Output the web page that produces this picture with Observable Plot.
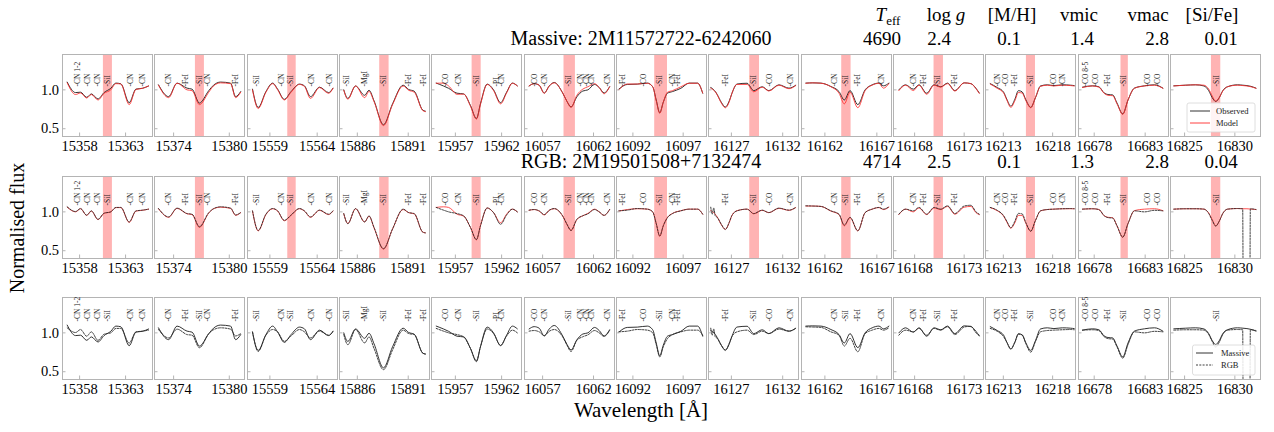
<!DOCTYPE html>
<html>
<head>
<meta charset="utf-8">
<script src="https://cdn.jsdelivr.net/npm/d3@7"></script>
<script src="https://cdn.jsdelivr.net/npm/@observablehq/plot@0.6"></script>
<style>
  body { margin: 0; background: #fff; }
  #fig { position: relative; width: 1274px; height: 432px; overflow: hidden; background: #fff;
         font-family: "Liberation Serif", "Times New Roman", serif; }
  .panel { position: absolute; }
  .panel svg { overflow: visible; }
</style>
</head>
<body>
<div id="fig"></div>
<script>
// ---------- star identifiers and fitted parameters ----------
const rowTitles = ["Massive: 2M11572722-6242060", "RGB: 2M19501508+7132474"];
const paramNames = ["<tspan font-style='italic'>T</tspan><tspan font-size='13' dy='4'>eff</tspan>",
                    "log <tspan font-style='italic'>g</tspan>", "[M/H]", "vmic", "vmac", "[Si/Fe]"];
const massiveParams = ["4690", "2.4", "0.1", "1.4", "2.8", "0.01"];
const rgbParams = ["4714", "2.5", "0.1", "1.3", "2.8", "0.04"];

// ---------- wavelength windows (Å) ----------
const xDomains = [[15356.14, 15365.93], [15371.94, 15381.64], [15556.63, 15566.15], [15884.25, 15893.09],
  [15954.42, 15964.15], [16055.22, 16064.06], [16090.37, 16099.32], [16124.77, 16133.54],
  [16159.75, 16168.41], [16165.87, 16174.95], [16211.19, 16220.32], [16676.46, 16685.29], [16823.60, 16832.55]];
const xTicks = [[15358, 15363], [15374, 15380], [15559, 15564], [15886, 15891], [15957, 15962], [16057, 16062],
  [16092, 16097], [16127, 16132], [16162, 16167], [16168, 16173], [16213, 16218], [16678, 16683], [16825, 16830]];
const yTicks = [0.5, 1.0];
// Si I line masks used in the fit
const siBands = [[15360.59, 15361.57], [15376.35, 15377.32], [15560.89, 15561.78], [15888.20, 15889.12],
  [15958.81, 15959.79], [16059.10, 16060.22], [16094.17, 16095.44], [16128.79, 16129.74], [16163.62, 16164.52],
  [16169.96, 16170.91], [16215.34, 16216.26], [16680.63, 16681.35], [16827.67, 16828.60]];

// ---------- spectra: wavelength, massive obs/model, RGB obs/model ----------
const wl01 = [15356.65, 15357.56, 15358.10, 15358.77, 15359.28, 15360.00, 15360.66, 15361.39, 15361.94, 15362.49, 15363.39, 15364.13, 15364.84, 15365.50];
const massObs01 = [1.100, 0.965, 0.970, 0.904, 0.948, 0.883, 0.965, 1.020, 1.087, 1.078, 0.835, 1.010, 1.020, 1.050];
const massMod01 = [1.090, 0.940, 0.960, 0.895, 0.940, 0.870, 0.955, 1.000, 1.080, 1.075, 0.810, 1.005, 1.020, 1.050];
const rgbObs01 = [1.065, 1.004, 1.043, 0.957, 1.013, 0.904, 0.983, 1.000, 1.057, 1.057, 0.870, 1.013, 1.022, 1.035];
const rgbMod01 = [1.060, 1.000, 1.040, 0.955, 1.010, 0.900, 0.980, 1.000, 1.055, 1.055, 0.865, 1.010, 1.020, 1.035];
const lines01 = [["CN 1-2", 15357.73], ["CN", 15358.82], ["CN", 15359.98], ["SiI", 15361.08], ["CN", 15363.58], ["CN", 15364.86]];

const wl02 = [15372.37, 15373.46, 15374.37, 15375.45, 15375.99, 15376.78, 15377.79, 15378.30, 15379.06, 15380.14, 15380.68, 15381.23];
const massObs02 = [1.065, 0.913, 1.087, 1.022, 1.009, 0.830, 0.990, 1.060, 1.100, 1.087, 0.913, 0.978];
const massMod02 = [1.060, 0.900, 1.085, 1.000, 0.990, 0.810, 0.970, 1.050, 1.090, 1.080, 0.900, 0.970];
const rgbObs02 = [1.043, 0.935, 1.048, 0.978, 0.970, 0.809, 0.990, 1.040, 1.065, 1.048, 0.961, 0.991];
const rgbMod02 = [1.040, 0.930, 1.045, 0.975, 0.965, 0.800, 0.985, 1.040, 1.060, 1.045, 0.955, 0.990];
const lines02 = [["CN", 15373.46], ["FeI", 15375.27], ["SiI", 15376.78], ["CN", 15377.68], ["FeI", 15380.68]];

const wl03 = [15557.16, 15557.76, 15558.58, 15559.29, 15559.82, 15560.52, 15561.24, 15562.12, 15562.65, 15563.29, 15564.25, 15565.21, 15565.67];
const massObs03 = [1.009, 0.774, 0.978, 1.087, 1.009, 0.878, 0.978, 1.074, 1.052, 0.913, 1.035, 0.965, 1.022];
const massMod03 = [1.000, 0.760, 0.970, 1.080, 1.000, 0.870, 0.970, 1.070, 1.045, 0.890, 1.030, 0.955, 1.020];
const rgbObs03 = [1.013, 0.761, 0.970, 1.043, 1.013, 0.891, 0.960, 1.043, 1.013, 0.935, 1.022, 0.970, 1.013];
const rgbMod03 = [1.010, 0.755, 0.965, 1.040, 1.010, 0.885, 0.955, 1.040, 1.010, 0.930, 1.020, 0.965, 1.010];
const lines03 = [["SiI", 15557.62], ["CN", 15560.25], ["SiI", 15561.16], ["CN", 15563.44], ["CN", 15565.31]];

const wl04 = [15884.67, 15885.07, 15885.83, 15886.72, 15887.15, 15887.64, 15888.57, 15889.46, 15890.50, 15891.04, 15891.59, 15892.42, 15892.68];
const massObs04 = [1.000, 0.890, 1.050, 0.930, 0.995, 0.860, 0.550, 0.820, 1.060, 1.005, 0.983, 0.740, 0.726];
const massMod04 = [0.995, 0.880, 1.050, 0.900, 0.980, 0.850, 0.540, 0.810, 1.050, 0.995, 0.970, 0.735, 0.720];
const rgbObs04 = [0.978, 0.848, 1.043, 0.870, 0.948, 0.800, 0.526, 0.780, 1.035, 0.991, 0.978, 0.740, 0.730];
const rgbMod04 = [0.975, 0.850, 1.040, 0.870, 0.945, 0.795, 0.520, 0.780, 1.030, 0.990, 0.975, 0.740, 0.730];
const lines04 = [["SiI", 15884.94], ["MgI", 15886.72], ["SiI", 15888.63], ["FeI", 15891.04], ["FeI", 15892.52]];

const wl05 = [15954.93, 15955.72, 15956.27, 15957.18, 15957.90, 15958.63, 15959.28, 15959.71, 15960.44, 15961.13, 15961.89, 15962.54, 15963.16, 15963.70];
const massObs05 = [1.087, 1.050, 1.020, 0.957, 0.948, 0.800, 0.630, 0.820, 1.074, 1.000, 0.835, 0.970, 1.087, 1.052];
const massMod05 = [1.085, 1.087, 1.050, 0.943, 0.945, 0.790, 0.625, 0.810, 1.070, 0.990, 0.820, 0.960, 1.085, 1.050];
const rgbObs05 = [1.057, 1.022, 1.000, 0.978, 0.948, 0.800, 0.643, 0.820, 1.050, 0.990, 0.840, 0.960, 1.035, 1.000];
const rgbMod05 = [1.057, 1.065, 1.057, 0.970, 0.945, 0.800, 0.640, 0.820, 1.050, 0.990, 0.860, 0.970, 1.035, 1.000];
const lines05 = [["CO", 15955.99], ["CN", 15957.35], ["SiI", 15959.28], ["PI", 15961.45], ["CN", 15961.96]];

const wl06 = [16055.67, 16056.17, 16056.66, 16057.16, 16057.65, 16058.14, 16058.97, 16059.40, 16059.79, 16060.36, 16060.95, 16061.45, 16062.10, 16062.56, 16063.03, 16063.58];
const massObs06 = [1.050, 1.080, 1.060, 0.960, 1.050, 1.095, 0.960, 0.850, 0.780, 0.910, 0.985, 1.000, 1.070, 1.030, 0.960, 1.040];
const massMod06 = [1.050, 1.080, 1.060, 0.955, 1.050, 1.090, 0.960, 0.850, 0.775, 0.930, 1.010, 1.040, 1.080, 1.030, 0.950, 1.040];
const rgbObs06 = [1.022, 1.030, 1.013, 0.965, 1.020, 1.043, 0.948, 0.840, 0.761, 0.904, 0.950, 0.975, 1.030, 1.000, 0.955, 1.030];
const rgbMod06 = [1.020, 1.030, 1.010, 0.960, 1.020, 1.040, 0.945, 0.835, 0.760, 0.900, 0.950, 0.980, 1.035, 1.000, 0.955, 1.030];
const lines06 = [["CO", 16056.17], ["CN", 16057.16], ["SiI", 16059.53], ["CN", 16060.71], ["CN", 16061.28], ["CN", 16061.77], ["CN", 16063.35]];

const wl07 = [16090.60, 16091.44, 16092.44, 16093.44, 16093.97, 16094.32, 16094.67, 16095.02, 16095.44, 16095.94, 16096.77, 16097.60, 16098.44, 16098.94];
const massObs07 = [1.010, 1.070, 1.074, 1.087, 1.040, 0.870, 0.705, 0.840, 0.957, 0.978, 1.020, 1.087, 1.087, 0.957];
const massMod07 = [1.000, 1.075, 1.075, 1.085, 1.040, 0.860, 0.700, 0.840, 0.970, 0.990, 1.040, 1.085, 1.085, 0.960];
const rgbObs07 = [1.013, 1.022, 1.043, 1.035, 1.000, 0.850, 0.690, 0.820, 0.926, 0.978, 1.013, 1.035, 1.035, 0.970];
const rgbMod07 = [1.010, 1.030, 1.040, 1.035, 1.000, 0.850, 0.685, 0.820, 0.930, 0.980, 1.015, 1.035, 1.035, 0.970];
const lines07 = [["FeI", 16090.94], ["CO", 16093.10], ["SiI", 16094.70], ["CN", 16095.94], ["FeI", 16096.44]];

const wl08 = [16124.99, 16125.13, 16125.28, 16125.43, 16125.62, 16126.02, 16126.41, 16126.80, 16127.04, 16127.55, 16128.53, 16129.18, 16130.00, 16130.65, 16131.63, 16132.61, 16133.27];
const massObs08 = [1.030, 1.020, 1.000, 0.980, 0.940, 0.840, 0.780, 0.860, 0.950, 1.075, 1.085, 0.990, 1.040, 0.990, 1.065, 1.022, 1.060];
const massMod08 = [1.020, 1.010, 0.995, 0.975, 0.935, 0.830, 0.770, 0.850, 0.950, 1.070, 1.070, 0.975, 1.035, 0.985, 1.060, 1.015, 1.055];
const rgbObs08 = [1.060, 0.970, 1.050, 0.950, 0.930, 0.840, 0.774, 0.870, 0.950, 1.013, 1.035, 0.978, 1.022, 0.991, 1.048, 1.022, 1.057];
const rgbMod08 = [1.020, 1.000, 0.990, 0.970, 0.935, 0.835, 0.775, 0.865, 0.950, 1.015, 1.035, 0.975, 1.020, 0.990, 1.045, 1.020, 1.055];
const lines08 = [["FeI", 16126.41], ["SiI", 16129.18], ["CO", 16130.75], ["CN", 16132.78]];

const wl09 = [16160.17, 16160.84, 16161.62, 16162.58, 16163.36, 16163.87, 16164.42, 16165.17, 16165.87, 16166.55, 16167.20, 16167.64, 16168.16];
const massObs09 = [1.087, 1.090, 1.087, 1.043, 0.978, 0.870, 0.990, 0.810, 1.000, 1.065, 1.087, 1.052, 1.087];
const massMod09 = [1.085, 1.090, 1.085, 1.040, 0.957, 0.820, 0.970, 0.770, 0.990, 1.060, 1.085, 1.022, 1.080];
const rgbObs09 = [1.078, 1.075, 1.070, 1.013, 0.970, 0.830, 0.930, 0.757, 0.990, 1.035, 1.057, 1.035, 1.065];
const rgbMod09 = [1.075, 1.075, 1.070, 1.010, 0.965, 0.820, 0.925, 0.755, 0.990, 1.035, 1.055, 1.030, 1.060];
const lines09 = [["CN", 16162.90], ["SiI", 16163.97], ["FeI", 16165.17], ["CN", 16167.42]];

const wl10 = [16166.41, 16167.09, 16167.87, 16168.44, 16169.22, 16169.96, 16170.64, 16171.32, 16172.06, 16173.00, 16173.68, 16174.19, 16174.52];
const massObs10 = [1.000, 1.065, 1.009, 1.065, 0.957, 1.065, 1.040, 1.087, 0.991, 1.090, 1.080, 1.020, 0.960];
const massMod10 = [0.990, 1.060, 0.991, 1.060, 0.943, 1.060, 1.035, 1.080, 0.985, 1.090, 1.080, 1.015, 0.955];
const rgbObs10 = [0.970, 1.035, 1.013, 1.057, 0.970, 1.057, 1.035, 1.078, 0.978, 1.075, 1.085, 1.000, 0.970];
const rgbMod10 = [0.965, 1.035, 1.000, 1.050, 0.965, 1.050, 1.030, 1.070, 0.970, 1.060, 1.070, 0.990, 0.965];
const lines10 = [["CN", 16167.87], ["FeI", 16168.94], ["SiI", 16170.36], ["FeI", 16172.06]];

const wl11 = [16211.67, 16212.38, 16213.03, 16213.35, 16213.76, 16214.17, 16214.53, 16214.90, 16215.29, 16215.78, 16216.26, 16216.77, 16217.46, 16218.13, 16218.99, 16219.83, 16220.19];
const massObs11 = [1.080, 1.030, 0.970, 0.880, 0.790, 0.880, 0.990, 0.975, 0.870, 0.775, 0.900, 1.050, 1.065, 1.055, 1.065, 1.060, 1.055];
const massMod11 = [1.075, 1.020, 0.960, 0.870, 0.775, 0.860, 0.965, 0.960, 0.860, 0.770, 0.900, 1.045, 1.060, 1.050, 1.060, 1.055, 1.050];
const rgbObs11 = [1.057, 1.020, 0.950, 0.880, 0.796, 0.880, 0.980, 0.975, 0.860, 0.752, 0.890, 1.013, 1.030, 1.035, 1.040, 1.043, 1.040];
const rgbMod11 = [1.055, 1.015, 0.945, 0.870, 0.790, 0.860, 0.955, 0.955, 0.850, 0.750, 0.890, 1.013, 1.030, 1.035, 1.040, 1.040, 1.040];
const lines11 = [["CN", 16212.41], ["CO", 16213.20], ["FeI", 16214.12], ["SiI", 16215.75], ["CO", 16218.13], ["CN", 16219.02]];

const wl12 = [16676.85, 16677.84, 16678.46, 16678.98, 16679.35, 16679.81, 16680.24, 16680.80, 16681.32, 16681.94, 16682.93, 16683.92, 16684.74];
const massObs12 = [1.035, 1.052, 1.040, 0.960, 0.940, 0.935, 0.830, 0.690, 0.870, 1.022, 1.052, 1.065, 1.022];
const massMod12 = [1.030, 1.050, 1.035, 0.955, 0.930, 0.925, 0.820, 0.685, 0.870, 1.020, 1.050, 1.060, 1.020];
const rgbObs12 = [1.035, 1.040, 1.030, 0.950, 0.926, 0.920, 0.820, 0.674, 0.850, 1.013, 1.000, 1.020, 1.013];
const rgbMod12 = [1.035, 1.040, 1.030, 0.950, 0.930, 0.925, 0.820, 0.675, 0.850, 1.015, 1.035, 1.040, 1.015];
const lines12 = [["CO 8-5", 16677.18], ["CO", 16678.12], ["FeI", 16679.32], ["SiI", 16680.85], ["CO", 16683.26], ["CO", 16684.25]];

const wl13 = [16823.93, 16825.10, 16826.10, 16826.93, 16827.40, 16827.75, 16828.10, 16828.45, 16828.80, 16829.27, 16830.27, 16830.80, 16831.20, 16831.60, 16832.10];
const massObs13 = [1.052, 1.060, 1.065, 1.050, 0.990, 0.900, 0.850, 0.900, 0.990, 1.040, 1.065, 1.060, 1.055, 1.045, 1.022];
const massMod13 = [1.050, 1.060, 1.065, 1.060, 1.010, 0.920, 0.855, 0.900, 0.985, 1.040, 1.060, 1.055, 1.050, 1.040, 1.020];
const rgbMod13 = [1.035, 1.040, 1.040, 1.035, 0.985, 0.900, 0.820, 0.880, 0.980, 1.035, 1.043, 1.040, 1.040, 1.035, 1.030];
// RGB observed spectrum has two bad pixels near 16831 Å
const wl13rgb = [16823.93, 16825.10, 16826.10, 16826.93, 16827.40, 16827.75, 16828.10, 16828.45, 16828.80, 16829.27, 16830.27, 16830.78, 16830.83, 16831.49, 16831.54, 16832.10];
const rgbObs13 = [1.035, 1.040, 1.040, 1.035, 0.980, 0.890, 0.817, 0.880, 0.980, 1.035, 1.043, 1.040, 0.000, 0.000, 1.040, 1.030];
const lines13 = [["SiI", 16828.20]];

// ---------- assemble the per-window table ----------
const spectra = [
  [wl01, massObs01, massMod01, rgbObs01, rgbMod01, lines01],
  [wl02, massObs02, massMod02, rgbObs02, rgbMod02, lines02],
  [wl03, massObs03, massMod03, rgbObs03, rgbMod03, lines03],
  [wl04, massObs04, massMod04, rgbObs04, rgbMod04, lines04],
  [wl05, massObs05, massMod05, rgbObs05, rgbMod05, lines05],
  [wl06, massObs06, massMod06, rgbObs06, rgbMod06, lines06],
  [wl07, massObs07, massMod07, rgbObs07, rgbMod07, lines07],
  [wl08, massObs08, massMod08, rgbObs08, rgbMod08, lines08],
  [wl09, massObs09, massMod09, rgbObs09, rgbMod09, lines09],
  [wl10, massObs10, massMod10, rgbObs10, rgbMod10, lines10],
  [wl11, massObs11, massMod11, rgbObs11, rgbMod11, lines11],
  [wl12, massObs12, massMod12, rgbObs12, rgbMod12, lines12],
  [wl13, massObs13, massMod13, rgbObs13, rgbMod13, lines13, wl13rgb]
].map(([wl, mObs, mMod, rObs, rMod, lines, rWl]) => ({wl, mObs, mMod, rObs, rMod, lines, rWl: rWl || wl}));

// ---------- layout ----------
const FONT = "'Liberation Serif', 'Times New Roman', serif";
const panelLeft0 = 62, panelPitch = 92.33, panelW = 90, panelH = 82;
const rowTops = [54, 176, 297];
const yDomain = [0.4, 1.455];
const labelY = [1.043, 1.082, 1.146];
const frameColor = "#b4b4b4";
const obsColor = "#1c1c1c", modelColor = "#ff2b2b";
const tickFont = 14.5;

const fig = d3.select("#fig");

function spectrum(x, y, style) {
  return Plot.line(x.map((v, i) => [v, y[i]]), {
    x: d => d[0], y: d => d[1], curve: "monotone-x", clip: true, strokeWidth: 0.9, ...style
  });
}
const solidObs = {stroke: obsColor};
const modelLine = {stroke: modelColor, strokeOpacity: 0.92};
const dashedObs = {stroke: "#2a2a2a", strokeDasharray: "2,1.3"};

function panel(r, p) {
  const S = spectra[p];
  let lines;
  if (r === 0) lines = [spectrum(S.wl, S.mObs, solidObs), spectrum(S.wl, S.mMod, modelLine)];
  else if (r === 1) lines = [spectrum(S.wl, S.rMod, modelLine), spectrum(S.rWl, S.rObs, dashedObs)];
  else lines = [spectrum(S.wl, S.mObs, solidObs), spectrum(S.rWl, S.rObs, dashedObs)];

  const marks = [];
  if (r < 2) marks.push(Plot.barX([siBands[p]], {x1: d => d[0], x2: d => d[1], fill: "#ffb3b3"}));
  marks.push(...lines);
  marks.push(Plot.frame({stroke: frameColor}));
  // inward tick marks
  marks.push(Plot.tickX(xTicks[p], {x: d => d, stroke: frameColor, insetTop: panelH - 3.5}));
  marks.push(Plot.tickY(yTicks, {y: d => d, stroke: frameColor, insetRight: panelW - 3.5}));
  // line identifications
  marks.push(Plot.text(S.lines, {
    x: d => d[1], y: labelY[r], text: d => "-" + d[0], rotate: -90, textAnchor: "start",
    fontSize: 7.5, fill: "#222", fontFamily: FONT
  }));
  // tick labels
  marks.push(Plot.text(xTicks[p], {x: d => d, frameAnchor: "bottom", dy: 9.5, text: d => String(d),
    fontSize: tickFont, fontFamily: FONT, fill: "#000", lineAnchor: "middle"}));
  if (p === 0) marks.push(Plot.text(yTicks, {y: d => d, frameAnchor: "left", dx: -3.5, textAnchor: "end",
    text: d => d.toFixed(1), fontSize: tickFont, fontFamily: FONT, fill: "#000"}));

  const chart = Plot.plot({
    width: panelW, height: panelH, margin: 0,
    style: {background: "transparent", overflow: "visible", fontFamily: FONT},
    x: {domain: xDomains[p], axis: null},
    y: {domain: yDomain, axis: null},
    marks
  });
  fig.append("div").attr("class", "panel")
    .style("left", (panelLeft0 + p * panelPitch) + "px").style("top", rowTops[r] + "px")
    .node().appendChild(chart);
}

for (let r = 0; r < 3; r++) for (let p = 0; p < spectra.length; p++) panel(r, p);

// ---------- titles, parameter table, axis titles, legends ----------
const ov = fig.append("svg").attr("width", 1274).attr("height", 432)
  .style("position", "absolute").style("left", 0).style("top", 0)
  .attr("font-family", FONT).attr("fill", "#000");

function label(x, y, txt, size, anchor = "middle") {
  return ov.append("text").attr("x", x).attr("y", y).attr("font-size", size)
    .attr("text-anchor", anchor).html(txt);
}
label(641, 45, rowTitles[0], 20);
label(641, 168, rowTitles[1], 20);

const headerX = [888, 946, 1012, 1079, 1148, 1212];
const valueX = [882, 939, 1009, 1082, 1157, 1221];
paramNames.forEach((t, i) => label(headerX[i], 21, t, 19));
massiveParams.forEach((t, i) => label(valueX[i], 45, t, 19));
rgbParams.forEach((t, i) => label(valueX[i], 168, t, 19));

ov.append("text").attr("transform", "translate(23.5,228) rotate(-90)").attr("text-anchor", "middle")
  .attr("font-size", 20).text("Normalised flux");
label(641, 417, "Wavelength [Å]", 21);

function legend(x, y, w, h, items, lineX1, lineX2, textX) {
  const g = ov.append("g");
  g.append("rect").attr("x", x).attr("y", y).attr("width", w).attr("height", h).attr("rx", 2)
    .attr("fill", "#fff").attr("fill-opacity", 0.85).attr("stroke", "#d6d6d6").attr("stroke-width", 0.8);
  items.forEach(([name, color, dash], i) => {
    const yy = y + 8 + i * 12;
    g.append("line").attr("x1", lineX1).attr("x2", lineX2).attr("y1", yy).attr("y2", yy)
      .attr("stroke", color).attr("stroke-width", 0.9).attr("stroke-dasharray", dash);
    g.append("text").attr("x", textX).attr("y", yy + 3).attr("font-size", 8.5).attr("fill", "#222").text(name);
  });
}
legend(1187, 103, 68, 29, [["Observed", obsColor, null], ["Model", modelColor, null]], 1190, 1210, 1216);
legend(1192.5, 345, 62.5, 30, [["Massive", obsColor, null], ["RGB", "#2a2a2a", "2,1.3"]], 1196, 1213, 1221);
</script>
</body>
</html>
